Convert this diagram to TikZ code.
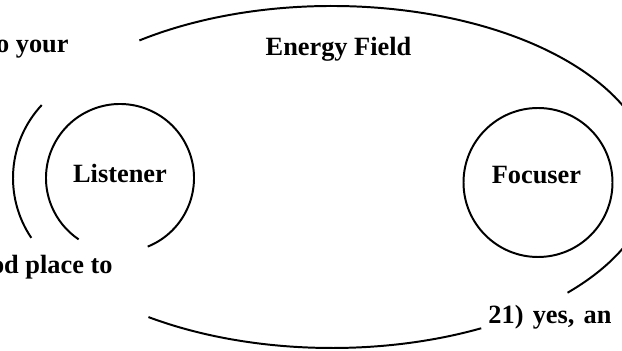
\documentclass[tikz,border=0pt]{standalone}
\usepackage{fontspec}
\setmainfont{Liberation Serif}
\usetikzlibrary{positioning}

\begin{document}
\begin{tikzpicture}[x=0.016cm, y=0.016cm,
  lbl/.style={font=\fontsize{12}{14}\selectfont\bfseries, inner sep=0pt},
  ring/.style={black, line width=0.9pt}]

% Canvas
\useasboundingbox (0,0) rectangle (622,350);
\clip (0,0) rectangle (622,350);

% Energy field (ellipse, broken on the left)
\coordinate (fld) at (332,173);
\draw[ring] (fld) ++(127:320 and 171)
  arc[start angle=127, end angle=-42.6, x radius=320, y radius=171];
\draw[ring] (fld) ++(-62.2:320 and 171)
  arc[start angle=-62.2, end angle=-125, x radius=320, y radius=171];
\node[lbl, anchor=base] (field) at (338.5,294) {Energy Field};

% Listener with its outer ripple
\coordinate (lis) at (120,172);
\draw[ring] (lis) ++(-68:74) arc[start angle=-68, end angle=236, radius=74];
\draw[ring] (lis) ++(137:107) arc[start angle=137, end angle=214, radius=107];
\node[lbl, anchor=base] (listener) at (120,167) {Listener};

% Focuser
\coordinate (foc) at (538,167.5);
\draw[ring] (foc) circle (74.5);
\node[lbl, anchor=base] (focuser) at (536.5,166) {Focuser};

% Cut-off text pieces
\node[lbl, anchor=base east] (ptop) at (69,297) {o your};
\node[lbl, anchor=base east] (pmid) at (113,77) {od place to};
\node[lbl, anchor=base west] (pbot) at (488,27) {21)\hspace{0.35em}yes,\hspace{0.35em}an};

\end{tikzpicture}
\end{document}
